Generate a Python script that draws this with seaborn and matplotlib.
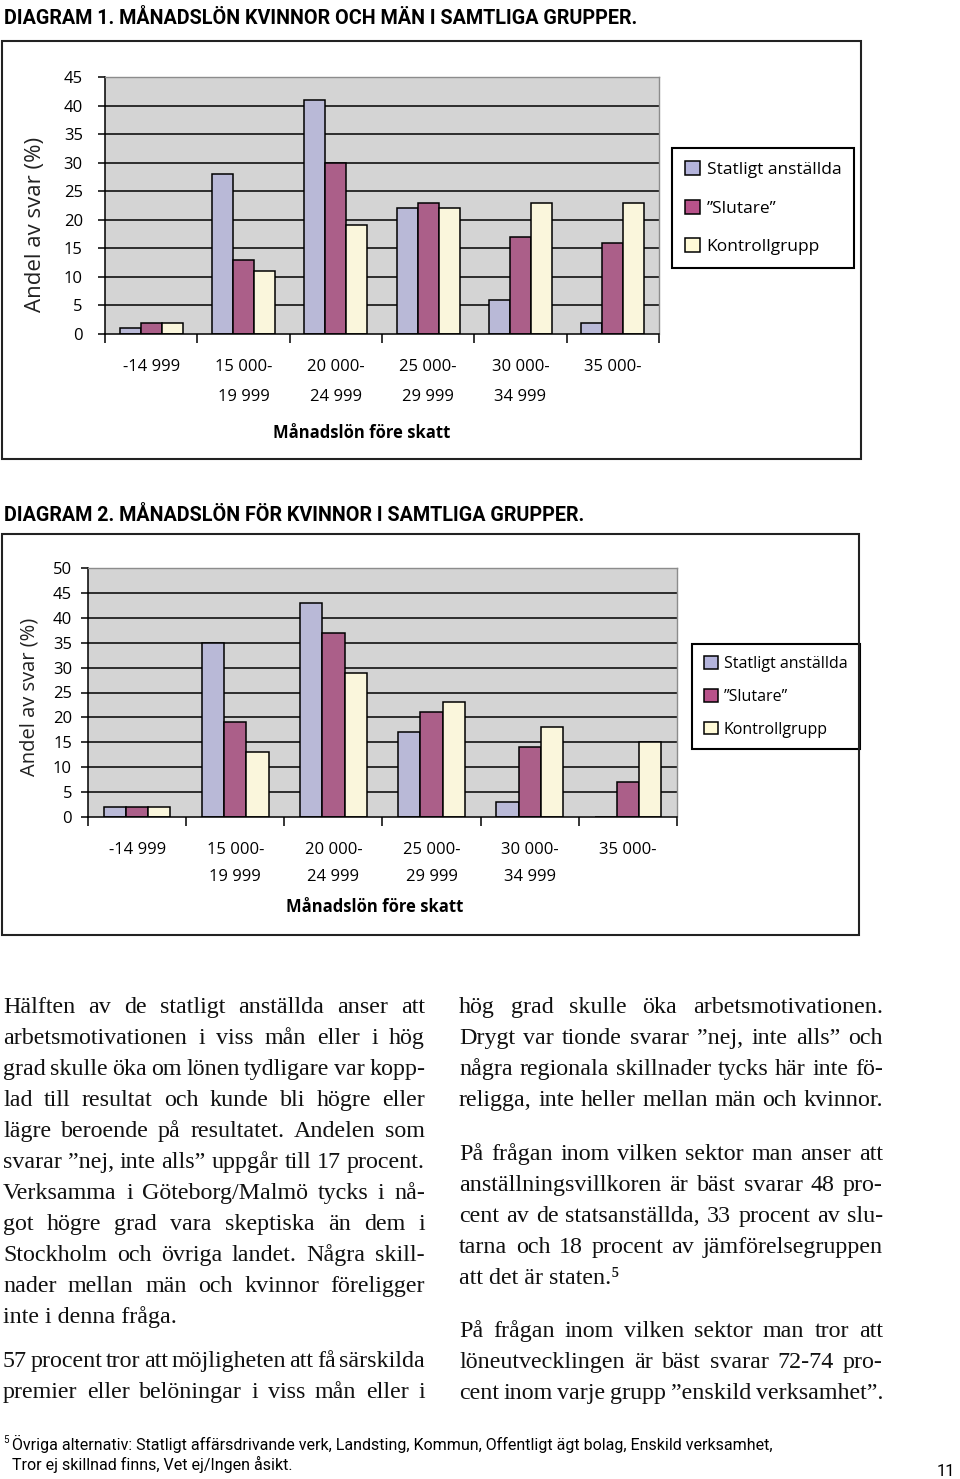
import numpy as np
import pandas as pd
import matplotlib
matplotlib.use("Agg")
import matplotlib.pyplot as plt
import seaborn as sns
from matplotlib.patches import Rectangle, Patch

W, H = 960, 1479

salary_bins = ["-14 999", "15 000-\n19 999", "20 000-\n24 999",
               "25 000-\n29 999", "30 000-\n34 999", "35 000-"]
groups = ["Statligt anställda", "”Slutare”", "Kontrollgrupp"]
group_colors = ["#b4b4dc", "#b8528a", "#fffad7"]

# Diagram 1: kvinnor och män
d1_statligt = [1, 28, 41, 22, 6, 2]
d1_slutare = [2, 13, 30, 23, 17, 16]
d1_kontroll = [2, 11, 19, 22, 23, 23]

# Diagram 2: kvinnor
d2_statligt = [2, 35, 43, 17, 3, 0]
d2_slutare = [2, 19, 37, 21, 14, 7]
d2_kontroll = [2, 13, 29, 23, 18, 15]

title1 = "DIAGRAM 1. MÅNADSLÖN KVINNOR OCH MÄN I SAMTLIGA GRUPPER."
title2 = "DIAGRAM 2. MÅNADSLÖN FÖR KVINNOR I SAMTLIGA GRUPPER."

left_col = [
    ("Hälften av de statligt anställda anser att", True),
    ("arbetsmotivationen i viss mån eller i hög", True),
    ("grad skulle öka om lönen tydligare var kopp-", True),
    ("lad till resultat och kunde bli högre eller", True),
    ("lägre beroende på resultatet. Andelen som", True),
    ("svarar ”nej, inte alls” uppgår till 17 procent.", True),
    ("Verksamma i Göteborg/Malmö tycks i nå-", True),
    ("got högre grad vara skeptiska än dem i", True),
    ("Stockholm och övriga landet. Några skill-", True),
    ("nader mellan män och kvinnor föreligger", True),
    ("inte i denna fråga.", False),
    ("57 procent tror att möjligheten att få särskilda", True),
    ("premier eller belöningar i viss mån eller i", True),
]
left_base = [1013, 1044, 1075, 1106, 1137, 1168, 1199, 1230, 1261, 1292, 1323, 1367, 1398]

right_col = [
    ("hög grad skulle öka arbetsmotivationen.", True),
    ("Drygt var tionde svarar ”nej, inte alls” och", True),
    ("några regionala skillnader tycks här inte fö-", True),
    ("religga, inte heller mellan män och kvinnor.", True),
    ("På frågan inom vilken sektor man anser att", True),
    ("anställningsvillkoren är bäst svarar 48 pro-", True),
    ("cent av de statsanställda, 33 procent av slu-", True),
    ("tarna och 18 procent av jämförelsegruppen", True),
    ("att det är staten.⁵", False),
    ("På frågan inom vilken sektor man tror att", True),
    ("löneutvecklingen är bäst svarar 72-74 pro-", True),
    ("cent inom varje grupp ”enskild verksamhet”.", True),
]
right_base = [1013, 1044, 1075, 1106, 1160, 1191, 1222, 1253, 1284, 1337, 1368, 1399]

footnote1 = "Övriga alternativ: Statligt affärsdrivande verk, Landsting, Kommun, Offentligt ägt bolag, Enskild verksamhet,"
footnote2 = "Tror ej skillnad finns, Vet ej/Ingen åsikt."

CHART_FONT = ["Open Sans", "DejaVu Sans"]
NARROW_FONT = ["Roboto", "DejaVu Sans"]
SERIF_FONT = ["Liberation Serif", "DejaVu Serif"]

plt.rcParams["font.family"] = CHART_FONT


def fx(x):
    return x / W


def fy(y):
    return 1 - y / H


def to_long(stat, slut, kontr):
    rows = []
    for g, vals in zip(groups, [stat, slut, kontr]):
        for b, v in zip(salary_bins, vals):
            rows.append({"Lön": b, "Grupp": g, "Andel": v})
    return pd.DataFrame(rows)


def draw_chart(fig, box, ymax, df, ylab_pos, xlab_pos, tickpad, xpad, linesp,
               ylab_size, leg_anchor, leg_size, leg_spacing):
    l, t, r, b = box
    ax = fig.add_axes([fx(l), fy(b), (r - l) / W, (b - t) / H])
    ax.set_facecolor("#d4d4d4")
    sns.barplot(data=df, x="Lön", y="Andel", hue="Grupp",
                order=salary_bins, hue_order=groups, palette=group_colors,
                width=0.68, edgecolor="black", linewidth=1.1,
                legend=False, ax=ax)
    ax.set_ylim(0, ymax)
    ax.set_xlim(-0.5, len(salary_bins) - 0.5)
    ax.set_yticks(np.arange(0, ymax + 1, 5))
    ax.set_axisbelow(True)
    ax.yaxis.grid(True, color="black", linewidth=1.1)
    ax.yaxis.get_gridlines()[-1].set_visible(False)
    ax.yaxis.get_gridlines()[0].set_visible(False)

    for side in ["top", "right"]:
        ax.spines[side].set_color("#8c8c8c")
        ax.spines[side].set_linewidth(1.0)
    for side in ["left", "bottom"]:
        ax.spines[side].set_color("black")
        ax.spines[side].set_linewidth(1.1)

    ax.set_xticks(range(len(salary_bins)))
    ax.set_xticklabels(salary_bins)
    ax.set_xticks(np.arange(-0.5, len(salary_bins), 1), minor=True)
    ax.tick_params(axis="x", which="major", length=0, pad=xpad, labelsize=12)
    ax.tick_params(axis="x", which="minor", length=6.5, width=1.1)
    ax.tick_params(axis="y", length=5, width=1.1, pad=tickpad, labelsize=12)
    for lab in ax.get_xticklabels():
        lab.set_linespacing(linesp)

    ax.set_ylabel("Andel av svar (%)", fontsize=ylab_size, color="#222222")
    ax.yaxis.set_label_coords(*ylab_pos)
    ax.yaxis.label.set_va("center")
    ax.set_xlabel("Månadslön före skatt", fontsize=12, fontweight="bold")
    ax.xaxis.set_label_coords(*xlab_pos)
    ax.xaxis.label.set_va("center")

    handles = [Patch(facecolor=c, edgecolor="black", linewidth=1.1)
               for c in group_colors]
    leg = ax.legend(handles, groups, loc="upper left",
                    bbox_to_anchor=(fx(leg_anchor[0]), fy(leg_anchor[1])),
                    bbox_transform=fig.transFigure, fancybox=False,
                    edgecolor="black", framealpha=1, fontsize=leg_size,
                    borderpad=0.75, labelspacing=leg_spacing,
                    handlelength=0.85, handleheight=0.85, handletextpad=0.4,
                    borderaxespad=0)
    leg.get_frame().set_linewidth(1.5)
    return ax


fig = plt.figure(figsize=(W / 100, H / 100), dpi=100)

# Diagram 1
fig.text(fx(4), fy(24), title1, fontsize=14.2, fontweight="bold",
         family=NARROW_FONT, va="baseline", ha="left")
fig.add_artist(Rectangle((fx(2), fy(459)), (861 - 2) / W, (459 - 41) / H,
                         transform=fig.transFigure, fill=False,
                         edgecolor="#222222", linewidth=1.5))
draw_chart(fig, (105, 77, 659, 334), 45,
           to_long(d1_statligt, d1_slutare, d1_kontroll),
           ylab_pos=(-0.126, 0.428), xlab_pos=(0.464, -0.385),
           tickpad=11, xpad=18, linesp=2.15, ylab_size=16,
           leg_anchor=(672, 148), leg_size=12.5, leg_spacing=1.25)

# Diagram 2
fig.text(fx(4), fy(521), title2, fontsize=14.2, fontweight="bold",
         family=NARROW_FONT, va="baseline", ha="left")
fig.add_artist(Rectangle((fx(2), fy(935)), (859 - 2) / W, (935 - 534) / H,
                         transform=fig.transFigure, fill=False,
                         edgecolor="#222222", linewidth=1.5))
draw_chart(fig, (88, 568, 677, 817), 50,
           to_long(d2_statligt, d2_slutare, d2_kontroll),
           ylab_pos=(-0.0985, 0.482), xlab_pos=(0.487, -0.361),
           tickpad=6.5, xpad=18, linesp=1.9, ylab_size=14.5,
           leg_anchor=(692, 644), leg_size=11.5, leg_spacing=1.05)

# Body text, justified in two columns
renderer = fig.canvas.get_renderer()
body_kw = dict(fontsize=17.3, family=SERIF_FONT, color="#111111", va="baseline")


def set_column(lines, bases, x0, x1):
    for (line, justify), yb in zip(lines, bases):
        words = line.split(" ")
        if not justify or len(words) == 1:
            fig.text(fx(x0), fy(yb), line, ha="left", **body_kw)
            continue
        texts = [fig.text(0, fy(yb), w, ha="left", **body_kw) for w in words]
        widths = [tx.get_window_extent(renderer).width for tx in texts]
        gap = max((x1 - x0 - sum(widths)) / (len(words) - 1), 2)
        x = x0
        for tx, w in zip(texts, widths):
            tx.set_x(fx(x))
            x += w + gap


set_column(left_col, left_base, 3, 425)
set_column(right_col, right_base, 459, 883)

# Footnote and page number
fig.text(fx(3), fy(1440), "5", fontsize=7, family=NARROW_FONT, va="center")
fig.text(fx(12), fy(1444), footnote1, fontsize=11.5, family=NARROW_FONT, va="center")
fig.text(fx(12), fy(1464), footnote2, fontsize=11.5, family=NARROW_FONT, va="center")
fig.text(fx(946), fy(1471), "11", fontsize=12, family=NARROW_FONT,
         va="center", ha="center")

fig.savefig("out.png", dpi=100, facecolor="white")
